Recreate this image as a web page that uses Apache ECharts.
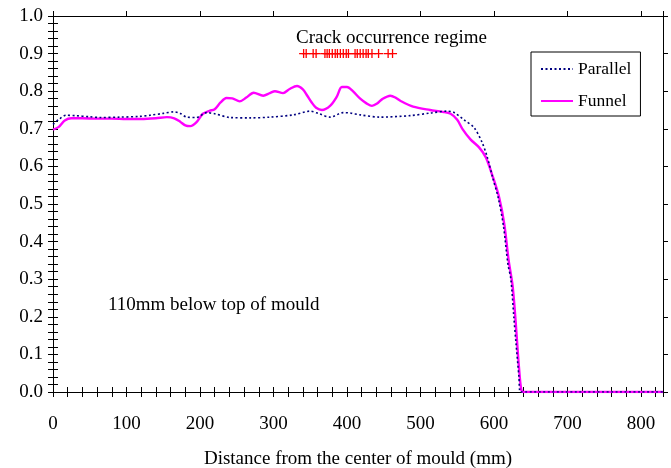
<!DOCTYPE html>
<html>
<head>
<meta charset="utf-8">
<script src="https://cdn.jsdelivr.net/npm/echarts@6/dist/echarts.min.js"></script>
<style>
  html, body { margin: 0; padding: 0; background: #fff; }
  #chart { width: 671px; height: 468px; }
</style>
</head>
<body>
<div id="chart"></div>
<script>
// values
const funnelX = [0, 8, 16, 25, 40, 60, 80, 100, 120, 140, 155, 165, 173, 180, 187, 195, 204, 213, 220, 228,
  236, 244, 254, 263, 273, 286, 295, 302, 313, 322, 332, 340, 346, 352, 358, 366, 377, 386, 393, 400,
  408, 418, 427, 434, 441, 448, 459, 466, 473, 490, 513, 530, 541, 550, 557, 568, 580, 589, 598, 607,
  614, 620, 625, 628, 631, 634, 637, 640, 830]
const funnelY = [0.698, 0.705, 0.722, 0.728, 0.728, 0.727, 0.727, 0.726, 0.726, 0.728, 0.731, 0.728, 0.719, 0.709, 0.707, 0.717, 0.740, 0.748, 0.752, 0.770,
  0.782, 0.781, 0.773, 0.783, 0.796, 0.788, 0.795, 0.800, 0.795, 0.806, 0.814, 0.805, 0.788, 0.770, 0.756, 0.750, 0.761, 0.785, 0.811, 0.811,
  0.800, 0.780, 0.767, 0.761, 0.767, 0.779, 0.788, 0.783, 0.774, 0.759, 0.750, 0.745, 0.740, 0.724, 0.700, 0.672, 0.650, 0.624, 0.575, 0.518,
  0.447, 0.350, 0.288, 0.226, 0.146, 0.066, 0.008, 0, 0]

const parallelX = [0, 8, 18, 30, 50, 64, 90, 118, 132, 150, 164, 173, 182, 195, 209, 220, 241, 268, 295, 327,
  350, 362, 377, 395, 404, 418, 445, 486, 514, 536, 545, 559, 573, 584, 591, 598, 606, 613, 619, 623,
  627, 630, 634, 636, 830]
const parallelY = [0.712, 0.725, 0.736, 0.735, 0.732, 0.730, 0.731, 0.733, 0.736, 0.741, 0.745, 0.741, 0.731, 0.730, 0.743, 0.740, 0.730, 0.729, 0.731, 0.737,
  0.747, 0.740, 0.731, 0.743, 0.742, 0.737, 0.731, 0.735, 0.742, 0.747, 0.744, 0.724, 0.703, 0.663, 0.624, 0.572, 0.515, 0.440, 0.340, 0.300,
  0.200, 0.129, 0.040, 0, 0]

// crack positions, all at 0.9
const crackX = [341, 344.5, 354, 358, 370, 373, 376, 380, 384, 387, 391, 395, 399, 402, 411, 414, 418, 422, 426, 429, 434, 443, 456, 462]
const crackLevel = 0.9

const xTicks = [0, 830, 100, 20]   // min, max, major, minor
const yTicks = [0, 1, 0.1, 0.02]

const font = 'Liberation Serif, Times New Roman, serif'

function pairs(xs, ys) {
  return xs.map((x, i) => [x, ys[i]])
}

function makeAxis(ticks, pos, opts) {
  return Object.assign({
    type: 'value',
    position: pos,
    min: ticks[0],
    max: ticks[1],
    splitLine: {show: false},
    axisLine: {show: false},
    axisLabel: {show: false},
    axisTick: {show: false}
  }, opts)
}

let chart = echarts.init(document.getElementById('chart'))

const blackLine = {show: true, onZero: false, lineStyle: {color: '#000', width: 1}}

// each side: one axis for major ticks (outside), one for inward ticks every minor step
const xAxes = [
  makeAxis(xTicks, 'bottom', {
    interval: xTicks[2],
    axisLine: blackLine,
    axisTick: {show: true, inside: false, length: 5, lineStyle: {color: '#000'}},
    axisLabel: {show: true, margin: 23, color: '#000', fontFamily: font, fontSize: 19, showMaxLabel: false},
    name: 'Distance from the center of mould (mm)',
    nameLocation: 'middle',
    nameGap: 58,
    nameTextStyle: {color: '#000', fontFamily: font, fontSize: 19}
  }),
  makeAxis(xTicks, 'bottom', {interval: xTicks[3], axisTick: {show: true, inside: true, length: 5, lineStyle: {color: '#000'}}}),
  makeAxis(xTicks, 'top', {interval: xTicks[2], axisLine: blackLine, axisTick: {show: true, inside: false, length: 5, lineStyle: {color: '#000'}}}),
  makeAxis(xTicks, 'top', {interval: xTicks[3], axisTick: {show: true, inside: true, length: 5, lineStyle: {color: '#000'}}})
]

const yAxes = [
  makeAxis(yTicks, 'left', {
    interval: yTicks[2],
    axisLine: blackLine,
    axisTick: {show: true, inside: false, length: 5, lineStyle: {color: '#000'}},
    axisLabel: {show: true, margin: 10, color: '#000', fontFamily: font, fontSize: 19, formatter: v => v.toFixed(1)}
  }),
  makeAxis(yTicks, 'left', {interval: yTicks[3], axisTick: {show: true, inside: true, length: 5, lineStyle: {color: '#000'}}}),
  makeAxis(yTicks, 'right', {interval: yTicks[2], axisLine: blackLine, axisTick: {show: true, inside: false, length: 5, lineStyle: {color: '#000'}}}),
  makeAxis(yTicks, 'right', {interval: yTicks[3], axisTick: {show: true, inside: true, length: 5, lineStyle: {color: '#000'}}})
]

const option = {
  animation: false,
  backgroundColor: '#fff',
  grid: {left: 53, right: 8, top: 16, bottom: 76, outerBoundsMode: 'none', containLabel: false},
  title: {
    text: 'Crack occurrence regime',
    left: 296,
    top: 29,
    padding: 0,
    textStyle: {color: '#000', fontFamily: font, fontSize: 19, fontWeight: 'normal'}
  },
  legend: {
    data: ['Parallel', 'Funnel'],
    orient: 'vertical',
    left: 531,
    top: 52,
    padding: [8, 9, 6, 9],
    itemWidth: 32,
    itemHeight: 14,
    itemGap: 14,
    borderColor: '#000',
    borderWidth: 1,
    itemStyle: {opacity: 0},
    textStyle: {color: '#000', fontFamily: font, fontSize: 17.5}
  },
  graphic: [{
    type: 'text',
    left: 108,
    top: 296,
    style: {text: '110mm below top of mould', fill: '#000', font: '19px ' + font}
  }],
  xAxis: xAxes,
  yAxis: yAxes,
  series: [
    {
      name: 'Parallel',
      type: 'line',
      data: pairs(parallelX, parallelY),
      symbol: 'none',
      smooth: 0.3,
      lineStyle: {color: '#000080', width: 1.6, type: [2, 2.5]},
      itemStyle: {color: '#000080'},
      z: 3
    },
    {
      name: 'Funnel',
      type: 'line',
      data: pairs(funnelX, funnelY),
      symbol: 'none',
      smooth: 0.3,
      lineStyle: {color: '#ff00ff', width: 2.4},
      itemStyle: {color: '#ff00ff'},
      z: 2
    },
    {
      name: 'Crack',
      type: 'scatter',
      data: crackX.map(x => [x, crackLevel]),
      symbol: 'path://M5,0L5,10M0,5L10,5',
      symbolSize: 9,
      itemStyle: {color: 'rgba(0,0,0,0)', borderColor: '#ff0000', borderWidth: 1.3, opacity: 1},
      z: 4
    }
  ]
}

chart.setOption(option)
</script>
</body>
</html>
